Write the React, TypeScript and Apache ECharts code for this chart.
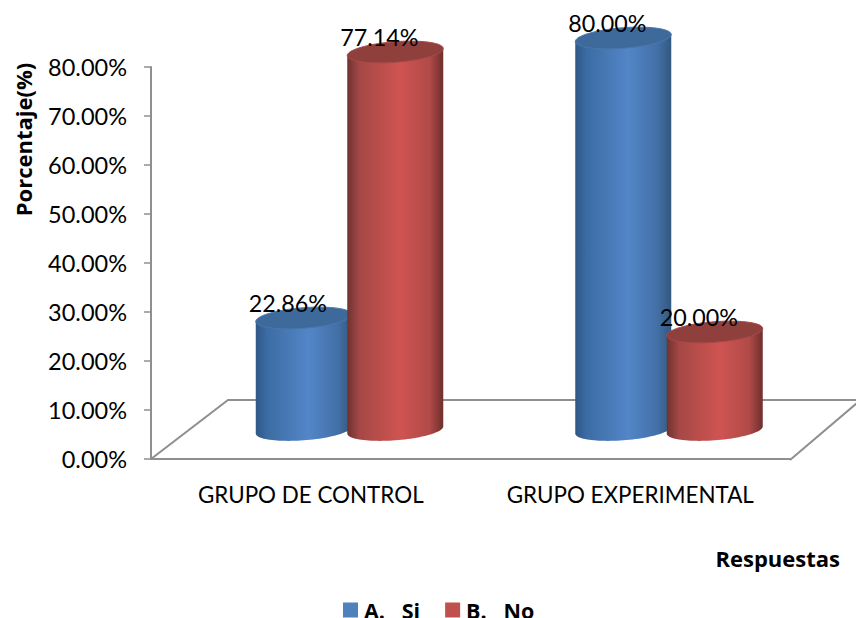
import React, { useEffect, useRef } from "react";
import * as echarts from "echarts";

const categories = ["GRUPO DE CONTROL", "GRUPO EXPERIMENTAL"];
const siValues = [22.86, 80.0];
const noValues = [77.14, 20.0];
const seriesNames = ["A.   Si", "B.   No"];
const yTicks = { min: 0, max: 80, interval: 10 };

const FONT = "Lato, 'Open Sans', sans-serif";
const BOLD = "'Open Sans', Lato, sans-serif";
const GREY = "#8f8f8f";

const blueSide = [
  [0, "#2f5786"], [0.12, "#3c6ca3"], [0.55, "#5386c8"], [0.86, "#426fa6"], [1, "#33587f"],
];
const redSide = [
  [0, "#6f3230"], [0.13, "#a54846"], [0.55, "#cf5451"], [0.86, "#b04a48"], [1, "#6e2f2d"],
];

const RX = 48;
const RY = 10.3;
const TILT = 3.5;
const LIFT = 29;

function makeRender(offset: number, stops: any[], topColor: string, rim: string) {
  return (_params: any, api: any) => {
    const base = api.coord([api.value(0), 0]);
    const top = api.coord([api.value(0), api.value(1)]);
    const cx = base[0] + offset;
    const by = base[1] - LIFT;
    const ty = top[1] - LIFT;
    const side: number[][] = [];
    const N = 48;
    for (let i = 0; i <= N; i++) {
      const t = Math.PI - (Math.PI * i) / N;
      side.push([cx + RX * Math.cos(t), by - TILT * Math.cos(t) + RY * Math.sin(t)]);
    }
    side.push([cx + RX, ty - TILT], [cx - RX, ty + TILT]);
    const cap: number[][] = [];
    for (let i = 0; i < 96; i++) {
      const t = (2 * Math.PI * i) / 96;
      cap.push([cx + RX * Math.cos(t), ty - TILT * Math.cos(t) + RY * Math.sin(t)]);
    }
    return {
      type: "group",
      children: [
        {
          type: "polygon",
          shape: { points: side },
          style: {
            fill: {
              type: "linear", x: 0, y: 0, x2: 1, y2: 0,
              colorStops: stops.map(([o, c]) => ({ offset: o, color: c })),
            },
          },
        },
        {
          type: "polygon",
          shape: { points: cap },
          style: { fill: topColor, stroke: rim, lineWidth: 1 },
        },
        {
          type: "text",
          z2: 100,
          style: {
            text: api.value(1).toFixed(2) + "%",
            x: cx - 16,
            y: ty - 15,
            align: "center",
            verticalAlign: "middle",
            font: `23.3px ${FONT}`,
            fill: "#000",
          },
        },
      ],
    };
  };
}

export default function App() {
  const ref = useRef<HTMLDivElement>(null);
  useEffect(() => {
    const chart = echarts.init(ref.current!, undefined, { renderer: "svg" });
    chart.setOption({
      animation: false,
      backgroundColor: "#ffffff",
      grid: { left: 151, right: 66, top: 67, bottom: 159 },
      xAxis: {
        type: "category",
        data: categories,
        axisTick: { show: false },
        axisLine: { lineStyle: { color: GREY, width: 2 } },
        axisLabel: { color: "#000", fontFamily: FONT, fontSize: 22.4, margin: 24, interval: 0 },
      },
      yAxis: {
        type: "value",
        ...yTicks,
        splitLine: { show: false },
        axisLine: { show: true, lineStyle: { color: GREY, width: 2 } },
        axisTick: { show: true, length: 7, lineStyle: { color: GREY, width: 1.5 } },
        axisLabel: {
          color: "#000",
          fontFamily: FONT,
          fontSize: 23.5,
          margin: 24,
          padding: [5, 0, 0, 0],
          formatter: (v: number) => v.toFixed(2) + "%",
        },
      },
      legend: {
        left: 343,
        top: 599,
        itemWidth: 15,
        itemHeight: 15,
        itemGap: 25,
        icon: "rect",
        padding: 0,
        textStyle: { color: "#000", fontFamily: BOLD, fontSize: 21.5, fontWeight: "bold", padding: [0, 0, 0, 1] },
        data: seriesNames,
      },
      graphic: [
        {
          type: "polyline",
          silent: true,
          shape: { points: [[151, 459], [228, 400], [856, 400]] },
          style: { stroke: GREY, lineWidth: 2, fill: "none" },
        },
        {
          type: "polyline",
          silent: true,
          shape: { points: [[790, 460], [857, 403]] },
          style: { stroke: GREY, lineWidth: 2, fill: "none" },
        },
        {
          type: "text",
          x: 23,
          y: 139.5,
          rotation: Math.PI / 2,
          style: {
            text: "Porcentaje(%)",
            align: "center",
            verticalAlign: "middle",
            font: `bold 22px ${BOLD}`,
            fill: "#000",
          },
        },
        {
          type: "text",
          x: 840,
          y: 558,
          style: {
            text: "Respuestas",
            align: "right",
            verticalAlign: "middle",
            font: `bold 22px ${BOLD}`,
            fill: "#000",
          },
        },
      ],
      series: [
        {
          type: "custom",
          name: seriesNames[0],
          itemStyle: { color: "#4f81bd" },
          encode: { x: 0, y: 1 },
          data: siValues.map((v, i) => [i, v]),
          renderItem: makeRender(-7, blueSide, "#3e6a9b", "#4a78ad"),
          clip: false,
          z: 2,
        },
        {
          type: "custom",
          name: seriesNames[1],
          itemStyle: { color: "#c0504d" },
          encode: { x: 0, y: 1 },
          data: noValues.map((v, i) => [i, v]),
          renderItem: makeRender(84.5, redSide, "#8f3f3c", "#a84a48"),
          clip: false,
          z: 3,
        },
      ],
    });
    return () => chart.dispose();
  }, []);
  return <div ref={ref} style={{ position: "absolute", left: 0, top: 0, width: 856, height: 618 }} />;
}
